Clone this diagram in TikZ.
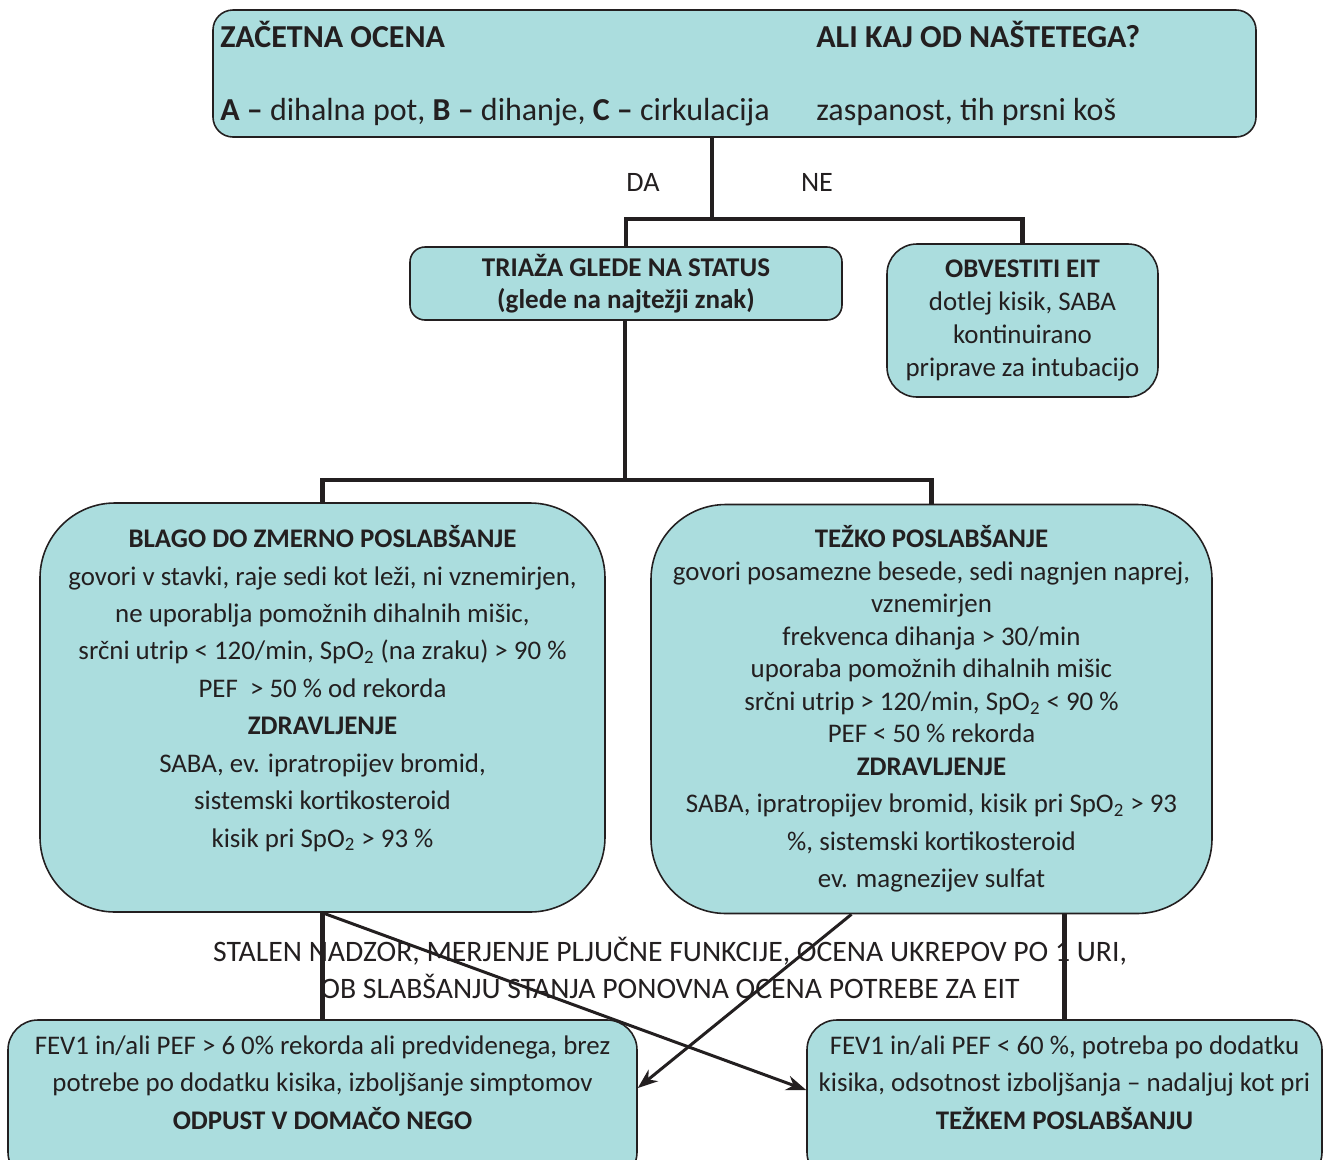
\documentclass[tikz,border=0pt]{standalone}
\usepackage{fontspec}
\setmainfont{Carlito}
\usepackage{xcolor}
\usepackage{tikz}
\usetikzlibrary{positioning,arrows.meta}

\definecolor{boxfill}{RGB}{171,221,222}
\definecolor{ink}{RGB}{35,31,32}

\begin{document}
\begin{tikzpicture}[x=0.2mm, y=-0.2mm, >={Stealth[length=4mm,width=3mm]},
  box/.style={draw=ink, line width=0.9pt, fill=boxfill, text=ink, align=center, inner sep=0pt},
  conn/.style={line width=2.8pt, ink},
  arr/.style={line width=1.7pt, ink, ->},
  txt/.style={text=ink, inner sep=0pt}]

\useasboundingbox (0,0) rectangle (1323,1160);

% boxes
\node[box, rounded corners=4mm, minimum width=208.6mm, minimum height=25.4mm] (start) at (734.5,73.5) {};
\node[box, rounded corners=3mm, minimum width=86.4mm, minimum height=14.6mm,
  font=\fontsize{15.4}{18.1}\selectfont\bfseries] (triage) at (626,283.5)
  {TRIAŽA GLEDE NA STATUS\\(glede na najtežji znak)};
\node[box, rounded corners=6mm, minimum width=54.2mm, minimum height=30.6mm,
  font=\fontsize{15.3}{18.7}\selectfont] (eit) at (1022.5,320.5)
  {\textbf{OBVESTITI EIT}\\dotlej kisik, SABA\\kontinuirano\\priprave za intubacijo};
\node[box, rounded corners=15mm, minimum width=113mm, minimum height=81.8mm,
  font=\fontsize{15.3}{21.3}\selectfont] (mild) at (322.5,707.5)
  {\textbf{BLAGO DO ZMERNO POSLABŠANJE}\\
   govori v stavki, raje sedi kot leži, ni vznemirjen,\\
   ne uporablja pomožnih dihalnih mišic,\\
   srčni utrip < 120/min, SpO\textsubscript{2} (na zraku) > 90 \%\\
   PEF \ > 50 \% od rekorda\\
   \textbf{ZDRAVLJENJE}\\
   SABA, ev. ipratropijev bromid,\\
   sistemski kortikosteroid\\
   kisik pri SpO\textsubscript{2} > 93 \%\\[1mm]\mbox{}};
\node[box, rounded corners=15mm, minimum width=112.2mm, minimum height=81.8mm,
  font=\fontsize{15.3}{18.5}\selectfont] (severe) at (931.5,709)
  {\textbf{TEŽKO POSLABŠANJE}\\
   govori posamezne besede, sedi nagnjen naprej,\\
   vznemirjen\\
   frekvenca dihanja > 30/min\\
   uporaba pomožnih dihalnih mišic\\
   srčni utrip > 120/min, SpO\textsubscript{2} < 90 \%\\
   PEF < 50 \% rekorda\\
   \textbf{ZDRAVLJENJE}\\[1mm]
   SABA, ipratropijev bromid, kisik pri SpO\textsubscript{2} > 93\\[1mm]
   \%, sistemski kortikosteroid\\[1mm]
   ev. magnezijev sulfat};
\node[box, rounded corners=6mm, minimum width=125.8mm, minimum height=32.4mm,
  font=\fontsize{15.3}{21.3}\selectfont] (home) at (322.5,1101)
  {FEV1 in/ali PEF > 6 0\% rekorda ali predvidenega, brez\\
   potrebe po dodatku kisika, izboljšanje simptomov\\
   \textbf{ODPUST V DOMAČO NEGO}\\ \mbox{}};
\node[box, rounded corners=6mm, minimum width=103mm, minimum height=32.4mm,
  font=\fontsize{15.3}{21.3}\selectfont] (worse) at (1064.5,1101)
  {FEV1 in/ali PEF < 60 \%, potreba po dodatku\\
   kisika, odsotnost izboljšanja -- nadaljuj kot pri\\
   \textbf{TEŽKEM POSLABŠANJU}\\ \mbox{}};

% texts in the first box
\node[txt, anchor=base west, font=\fontsize{18.2}{20}\selectfont\bfseries] (startA) at (220,47) {ZAČETNA OCENA};
\node[txt, anchor=base west, font=\fontsize{18.2}{20}\selectfont\bfseries] (startB) at (816,47) {ALI KAJ OD NAŠTETEGA?};
\node[txt, anchor=base west, font=\fontsize{18.2}{20}\selectfont] (startC) at (220,120)
  {\textbf{A --} dihalna pot, \textbf{B --} dihanje, \textbf{C --} cirkulacija};
\node[txt, anchor=base west, font=\fontsize{18.2}{20}\selectfont] (startD) at (816,120) {zaspanost, tih prsni koš};

% branch labels
\node[txt, font=\fontsize{16}{18}\selectfont] (da) at (643,182) {DA};
\node[txt, font=\fontsize{16}{18}\selectfont] (ne) at (817,182) {NE};

% connectors
\coordinate (split1) at (712,219);
\coordinate (split2) at (625,480);
\draw[conn] (start.south -| split1) -- (split1);
\draw[conn] (triage.north) |- (split1) -| (eit.north);
\draw[conn] (triage.south -| split2) -- (split2);
\draw[conn] (mild.north) |- (split2) -| (severe.north);
\draw[conn] (mild.south) -- (home.north);
\draw[conn] (worse.north |- severe.south) -- (worse.north);
\draw[arr] (mild.south) -- ([yshift=2.2mm]worse.west);
\draw[arr] ([xshift=-16mm]severe.south) -- ([yshift=2.6mm]home.east);

% note over the crossing lines
\node[txt, align=center, font=\fontsize{16.9}{21.3}\selectfont] (nadzor) at (670,968)
  {STALEN NADZOR, MERJENJE PLJUČNE FUNKCIJE, OCENA UKREPOV PO 1 URI,\\
   OB SLABŠANJU STANJA PONOVNA OCENA POTREBE ZA EIT};

\end{tikzpicture}
\end{document}
